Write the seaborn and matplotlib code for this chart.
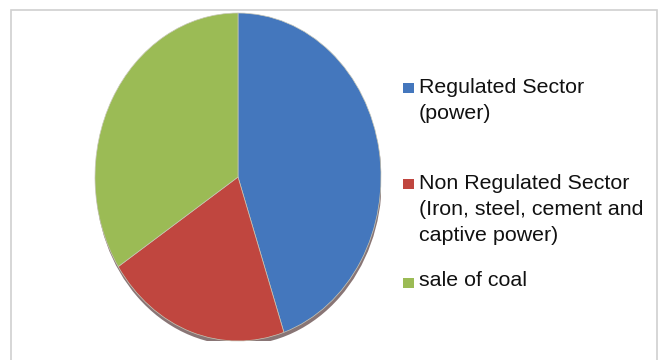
import matplotlib
matplotlib.use("Agg")
import matplotlib.pyplot as plt
import seaborn as sns
from matplotlib.patches import Rectangle, Ellipse

sns.set_theme(style="white")
plt.rcParams['font.family'] = ['Liberation Sans', 'DejaVu Sans']

categories = ["Regulated Sector\n(power)",
              "Non Regulated Sector\n(Iron, steel, cement and\ncaptive power)",
              "sale of coal"]
shares = [44.8, 21.0, 34.2]
colors = ["#4477BD", "#C0463F", "#9BBB55"]

W, H = 661, 360
fig = plt.figure(figsize=(W / 100, H / 100), dpi=100)
fig.patch.set_facecolor("white")

# frame
fig.patches.append(Rectangle((10.5 / W, -0.1), (657 - 10.5) / W, (H - 9.5) / H + 0.1,
                             transform=fig.transFigure, fill=False,
                             edgecolor="#d0d0d0", linewidth=1.2))

cx, cy, rx, ry = 238, 177, 143, 164
ax = fig.add_axes([(cx - rx) / W, (H - cy - ry) / H, 2 * rx / W, 2 * ry / H])
# shadow
ax.add_patch(Ellipse((0.005, -0.025), 2.0, 2.0, facecolor="#3a1a1a", alpha=0.6,
                     edgecolor="none", zorder=0))
ax.pie(shares, colors=colors, startangle=90, counterclock=False,
       wedgeprops=dict(linewidth=0.5, edgecolor="#c8c8b8"))
ax.set_aspect("auto")
ax.set_xlim(-1, 1)
ax.set_ylim(-1, 1)
ax.axis("off")

# legend
marker_y = [88, 184, 283]
text_top = [78, 174, 271]
for lab, col, my, ty in zip(categories, colors, marker_y, text_top):
    fig.patches.append(Rectangle((403 / W, 1 - (my + 5) / H), 10.5 / W, 10.5 / H,
                                 transform=fig.transFigure, facecolor=col,
                                 edgecolor="none"))
    fig.text(419 / W, 1 - ty / H, lab, ha="left", va="top",
             fontsize=15.4, color="#111111", linespacing=1.45)

fig.savefig("out.png", dpi=100)
